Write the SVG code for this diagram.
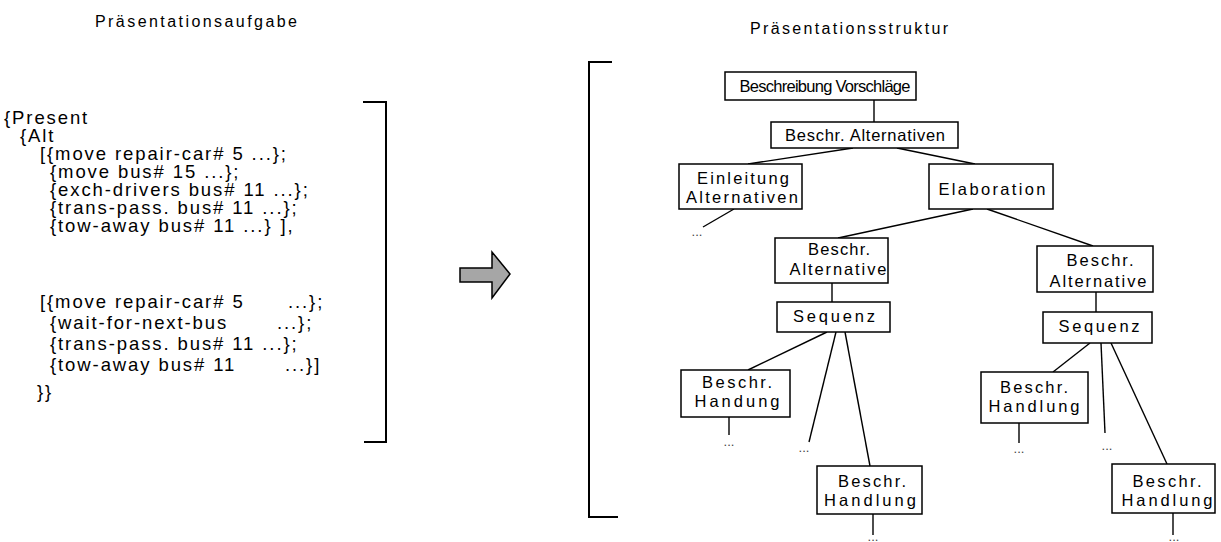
<svg xmlns="http://www.w3.org/2000/svg" width="1221" height="542" viewBox="0 0 1221 542">
<style>
.t{font-family:"Liberation Sans",Arial,sans-serif;fill:#000}
.title{font-size:16px}
.code{font-size:18.5px;letter-spacing:1.9px}
.lbl{font-size:16.5px;text-anchor:middle}
.box{fill:#fff;stroke:#000;stroke-width:1.5}
.ln{stroke:#000;stroke-width:1.4;fill:none}
.br{stroke:#000;stroke-width:2;fill:none}
.dots{font-family:"Liberation Sans",Arial,sans-serif;font-size:13px;fill:#444;text-anchor:middle}
</style>
<rect width="1221" height="542" fill="#fff"/>

<text class="t title" x="95" y="27" textLength="202" lengthAdjust="spacing">Präsentationsaufgabe</text>
<text class="t title" x="750" y="34" textLength="198" lengthAdjust="spacing">Präsentationsstruktur</text>

<g id="task">
<text class="t code" x="4" y="124">{Present</text>
<text class="t code" x="20" y="142">{Alt</text>
<text class="t code" x="40" y="160">[{move repair-car# 5 ...};</text>
<text class="t code" x="50" y="178">{move bus# 15 ...};</text>
<text class="t code" x="50" y="196">{exch-drivers bus# 11 ...};</text>
<text class="t code" x="50" y="214">{trans-pass. bus# 11 ...};</text>
<text class="t code" x="50" y="232">{tow-away bus# 11 ...}<tspan dx="8">],</tspan></text>
<text class="t code" x="40" y="308">[{move repair-car# 5<tspan x="288">...};</tspan></text>
<text class="t code" x="50" y="329">{wait-for-next-bus<tspan x="277">...};</tspan></text>
<text class="t code" x="50" y="350">{trans-pass. bus# 11 ...};</text>
<text class="t code" x="50" y="371">{tow-away bus# 11<tspan x="285">...}]</tspan></text>
<text class="t code" x="37" y="398">}}</text>
<path class="br" d="M363,102 H386 V442 H364"/>
</g>

<g id="arrow">
<polygon points="460,268 492,268 492,252 510,274 492,298 492,282 460,282" fill="#a6a6a6" stroke="#000" stroke-width="1.5"/>
</g>

<g id="bracket-right">
<path class="br" d="M612,62 H589 V517 H618"/>
</g>

<g id="connectors">
<line class="ln" x1="874" y1="100" x2="874" y2="122"/>
<line class="ln" x1="853" y1="148" x2="748" y2="164"/>
<line class="ln" x1="897" y1="148" x2="975" y2="164"/>
<line class="ln" x1="734" y1="209" x2="703" y2="227"/>
<line class="ln" x1="973" y1="209" x2="838" y2="238"/>
<line class="ln" x1="987" y1="209" x2="1093" y2="246"/>
<line class="ln" x1="832" y1="283" x2="832" y2="302"/>
<line class="ln" x1="1096" y1="292" x2="1096" y2="312"/>
<line class="ln" x1="827" y1="332" x2="748" y2="370"/>
<line class="ln" x1="836" y1="332" x2="809" y2="442"/>
<line class="ln" x1="845" y1="332" x2="870" y2="466"/>
<line class="ln" x1="729" y1="417" x2="729" y2="435"/>
<line class="ln" x1="873" y1="514" x2="873" y2="535"/>
<line class="ln" x1="1090" y1="343" x2="1053" y2="372"/>
<line class="ln" x1="1101" y1="343" x2="1105" y2="433"/>
<line class="ln" x1="1111" y1="343" x2="1167" y2="464"/>
<line class="ln" x1="1019" y1="423" x2="1019" y2="443"/>
<line class="ln" x1="1173" y1="513" x2="1173" y2="535"/>
</g>

<g id="dots">
<text class="dots" x="697" y="236">...</text>
<text class="dots" x="729" y="446">...</text>
<text class="dots" x="804" y="452">...</text>
<text class="dots" x="1019" y="453">...</text>
<text class="dots" x="1107" y="450">...</text>
<text class="dots" x="873" y="541" font-size="11">...</text>
<text class="dots" x="1174" y="541" font-size="11">...</text>
</g>

<g id="n-vorschlaege">
<rect class="box" x="725" y="72" width="191" height="28"/>
<text class="t lbl" x="825" y="92" font-size="15" textLength="171" lengthAdjust="spacing">Beschreibung Vorschläge</text>
</g>
<g id="n-alternativen">
<rect class="box" x="771" y="122" width="187" height="26"/>
<text class="t lbl" x="865" y="141" textLength="160" lengthAdjust="spacing">Beschr.  Alternativen</text>
</g>
<g id="n-einleitung">
<rect class="box" x="679" y="164" width="123" height="45"/>
<text class="t lbl" x="743" y="184" textLength="92" lengthAdjust="spacing">Einleitung</text>
<text class="t lbl" x="742" y="203" textLength="112" lengthAdjust="spacing">Alternativen</text>
</g>
<g id="n-elaboration">
<rect class="box" x="929" y="164" width="124" height="45"/>
<text class="t lbl" x="992" y="195" textLength="107" lengthAdjust="spacing">Elaboration</text>
</g>
<g id="n-alt-left">
<rect class="box" x="775" y="238" width="113" height="45"/>
<text class="t lbl" x="839" y="255" textLength="62" lengthAdjust="spacing">Beschr.</text>
<text class="t lbl" x="838" y="275" textLength="97" lengthAdjust="spacing">Alternative</text>
</g>
<g id="n-alt-right">
<rect class="box" x="1037" y="246" width="116" height="46"/>
<text class="t lbl" x="1100" y="266" textLength="67" lengthAdjust="spacing">Beschr.</text>
<text class="t lbl" x="1098" y="287" textLength="97" lengthAdjust="spacing">Alternative</text>
</g>
<g id="n-seq-left">
<rect class="box" x="777" y="302" width="113" height="30"/>
<text class="t lbl" x="834" y="322" textLength="82" lengthAdjust="spacing">Sequenz</text>
</g>
<g id="n-seq-right">
<rect class="box" x="1043" y="312" width="109" height="31"/>
<text class="t lbl" x="1099" y="332" textLength="81" lengthAdjust="spacing">Sequenz</text>
</g>
<g id="n-handung">
<rect class="box" x="681" y="370" width="109" height="47"/>
<text class="t lbl" x="737" y="388" textLength="70" lengthAdjust="spacing">Beschr.</text>
<text class="t lbl" x="737" y="407" textLength="85" lengthAdjust="spacing">Handung</text>
</g>
<g id="n-handlung-1">
<rect class="box" x="817" y="466" width="105" height="48"/>
<text class="t lbl" x="872" y="487" textLength="68" lengthAdjust="spacing">Beschr.</text>
<text class="t lbl" x="870" y="506" textLength="92" lengthAdjust="spacing">Handlung</text>
</g>
<g id="n-handlung-2">
<rect class="box" x="981" y="372" width="107" height="51"/>
<text class="t lbl" x="1034" y="393" textLength="68" lengthAdjust="spacing">Beschr.</text>
<text class="t lbl" x="1034" y="412" textLength="91" lengthAdjust="spacing">Handlung</text>
</g>
<g id="n-handlung-3">
<rect class="box" x="1112" y="464" width="103" height="49"/>
<text class="t lbl" x="1167" y="487" textLength="69" lengthAdjust="spacing">Beschr.</text>
<text class="t lbl" x="1167" y="506" textLength="91" lengthAdjust="spacing">Handlung</text>
</g>
</svg>
